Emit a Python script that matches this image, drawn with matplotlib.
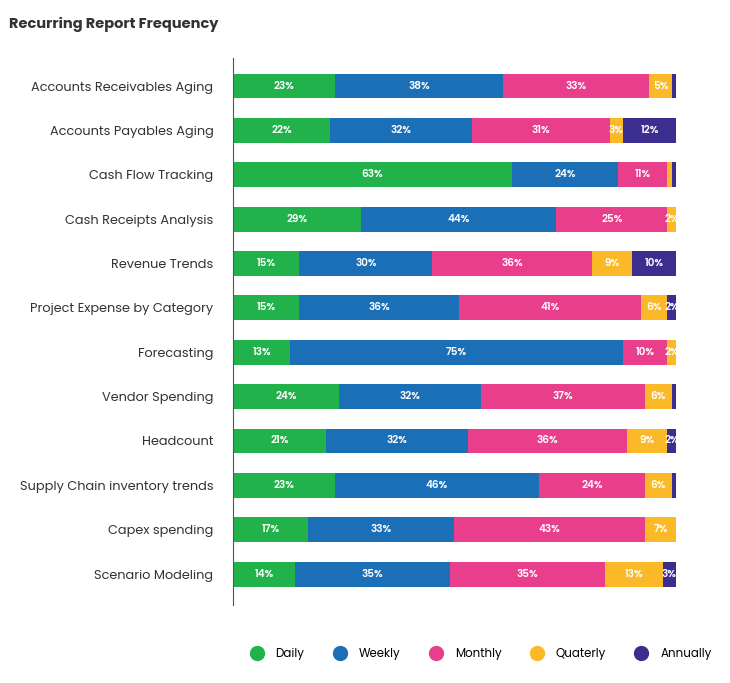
import matplotlib
matplotlib.use("Agg")
import matplotlib.pyplot as plt
import numpy as np
from matplotlib.lines import Line2D

plt.rcParams['font.family'] = ['Poppins', 'Lato', 'DejaVu Sans']

categories = ["Accounts Receivables Aging", "Accounts Payables Aging", "Cash Flow Tracking",
              "Cash Receipts Analysis", "Revenue Trends", "Project Expense by Category",
              "Forecasting", "Vendor Spending", "Headcount", "Supply Chain inventory trends",
              "Capex spending", "Scenario Modeling"]
series = ["Daily", "Weekly", "Monthly", "Quaterly", "Annually"]
daily = [23, 22, 63, 29, 15, 15, 13, 24, 21, 23, 17, 14]
weekly = [38, 32, 24, 44, 30, 36, 75, 32, 32, 46, 33, 35]
monthly = [33, 31, 11, 25, 36, 41, 10, 37, 36, 24, 43, 35]
quarterly = [5, 3, 1, 2, 9, 6, 2, 6, 9, 6, 7, 13]
annually = [1, 12, 1, 0, 10, 2, 0, 1, 2, 1, 0, 3]
colors = ["#22b24c", "#1b6fb7", "#e83e8c", "#fbb928", "#3c2e8e"]

fig = plt.figure(figsize=(7.3, 6.83), dpi=100)
ax = fig.add_axes([0.319, 0.114, 0.607, 0.801])
y = np.arange(len(categories))
left = np.zeros(len(categories))
for vals, c in zip([daily, weekly, monthly, quarterly, annually], colors):
    vals = np.array(vals, float)
    ax.barh(y, vals, left=left, height=0.56, color=c)
    for yi, (l, v) in enumerate(zip(left, vals)):
        if v >= 2:
            ax.text(l + v / 2, yi, f"{int(v)}%", ha="center", va="center",
                    color="white", fontsize=7.5, fontweight="semibold", clip_on=True)
    left += vals
ax.set_xlim(0, 100)
ax.set_ylim(11.7, -0.63)
ax.set_yticks(y)
ax.set_yticklabels(categories, fontsize=9.3, color="#333333")
ax.tick_params(axis='y', length=0, pad=14)
ax.set_xticks([])
for s in ["top", "right", "bottom"]:
    ax.spines[s].set_visible(False)
ax.spines["left"].set_color("#555555")

fig.text(0.012, 0.975, "Recurring Report Frequency", fontsize=10.5, fontweight="bold",
         color="#333333", va="top")
handles = [Line2D([], [], marker="o", ls="", markersize=10, color=c) for c in colors]
fig.legend(handles, series, loc="center", bbox_to_anchor=(0.655, 0.042), ncol=5,
           frameon=False, fontsize=8.5, handletextpad=0.6, columnspacing=2.0)
fig.savefig("out.png", dpi=100, facecolor="white")
